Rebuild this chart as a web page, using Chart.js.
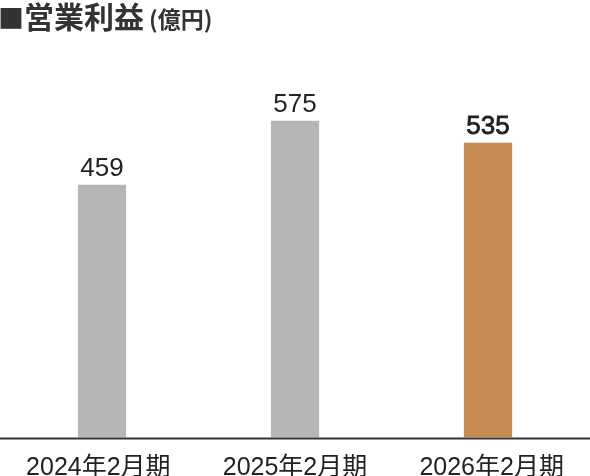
<!DOCTYPE html>
<html>
<head>
<meta charset="utf-8">
<script src="https://cdn.jsdelivr.net/npm/chart.js@4.4.1/dist/chart.umd.min.js"></script>
<style>
  html, body { margin: 0; padding: 0; background: #fff; }
  #wrap { position: relative; width: 590px; height: 476px; overflow: hidden; }
  #title { position: absolute; left: -2px; top: 0px; white-space: nowrap; color: #333;
           font-family: "Noto Sans CJK JP", sans-serif; font-weight: bold; line-height: 30px; }
  #title .sq { font-size: 26px; }
  #title .main { font-size: 30px; }
  #title .unit { font-size: 23px; margin-left: 5px; }
  canvas { position: absolute; left: 0; top: 0; }
</style>
</head>
<body>
<div id="wrap">
  <canvas id="c" width="590" height="476"></canvas>
  <div id="title"><span class="sq">■</span><span class="main">営業利益</span><span class="unit">(億円)</span></div>
</div>
<script>
const categories = ["2024年2月期", "2025年2月期", "2026年2月期"];
const operatingProfit = [459, 575, 535];
const barColors = ["#b5b7b6", "#b5b7b6", "#c48a4f"];
const labelEmphasis = [false, false, true];

const valueLabels = {
  id: 'valueLabels',
  afterDatasetsDraw(chart) {
    const ctx = chart.ctx;
    const meta = chart.getDatasetMeta(0);
    ctx.save();
    ctx.fillStyle = '#222';
    ctx.strokeStyle = '#222';
    ctx.textAlign = 'center';
    ctx.textBaseline = 'alphabetic';
    ctx.font = '26px "Liberation Sans", Arial, sans-serif';
    meta.data.forEach((bar, i) => {
      const t = String(operatingProfit[i]);
      ctx.fillText(t, bar.x, bar.y - 9);
      if (labelEmphasis[i]) { ctx.lineWidth = 0.8; ctx.strokeText(t, bar.x, bar.y - 9); }
    });
    ctx.restore();
  }
};

const baseLine = {
  id: 'baseLine',
  afterDatasetsDraw(chart) {
    const ctx = chart.ctx;
    const y = chart.chartArea.bottom + 1;
    ctx.save();
    ctx.strokeStyle = '#333';
    ctx.lineWidth = 2;
    ctx.beginPath();
    ctx.moveTo(0, y);
    ctx.lineTo(chart.width, y);
    ctx.stroke();
    ctx.restore();
  }
};

const edge = 0.5285;

new Chart(document.getElementById('c'), {
  type: 'bar',
  data: {
    labels: categories,
    datasets: [{
      data: operatingProfit.map((v, i) => ({ x: i, y: v })),
      backgroundColor: barColors,
      borderWidth: 0,
      categoryPercentage: 1,
      barPercentage: 0.5,
      xAxisID: 'x'
    }]
  },
  options: {
    responsive: false,
    animation: false,
    devicePixelRatio: 1,
    layout: { padding: { left: 0, right: 0, top: 52, bottom: 0 } },
    plugins: { legend: { display: false }, tooltip: { enabled: false }, title: { display: false } },
    scales: {
      x: {
        type: 'linear',
        display: false,
        offset: false,
        min: -edge,
        max: categories.length - 1 + edge
      },
      xl: {
        type: 'category',
        position: 'bottom',
        labels: categories,
        offset: true,
        grid: { display: false, drawTicks: false },
        border: { display: false },
        afterFit: (scale) => { scale.height = 38.5; },
        ticks: {
          color: '#222',
          padding: 18,
          font: { family: '"Liberation Sans", "Noto Sans CJK JP", sans-serif', size: 25, lineHeight: 1 },
          maxRotation: 0
        }
      },
      y: { display: false, min: 0, max: 700 }
    }
  },
  plugins: [valueLabels, baseLine]
});
</script>
</body>
</html>
